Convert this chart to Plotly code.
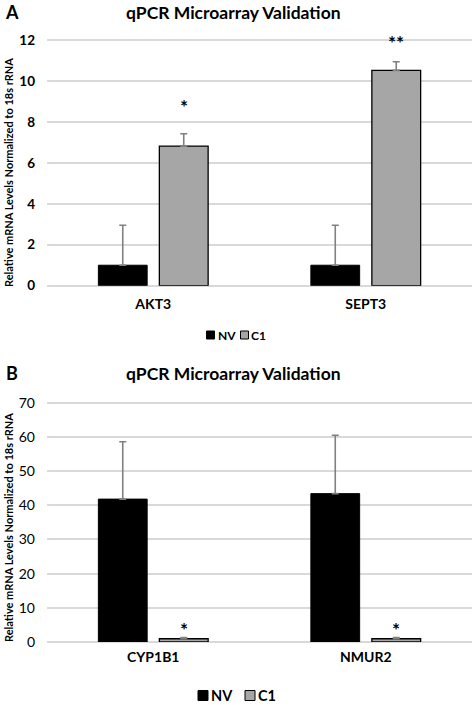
import plotly.graph_objects as go

# Panel A data
cats_a = ["AKT3", "SEPT3"]
nv_a = [1.0, 1.0]
nv_a_err = [1.95, 1.95]
c1_a = [6.82, 10.52]
c1_a_err = [0.6, 0.42]
sig_a = ["*", "**"]
sig_a_y = [8.75, 11.9]

# Panel B data
cats_b = ["CYP1B1", "NMUR2"]
nv_b = [41.8, 43.4]
nv_b_err = [16.8, 17.1]
c1_b = [0.95, 0.95]
c1_b_err = [0.35, 0.35]
sig_b = ["*", "*"]
sig_b_y = [3.6, 3.6]

yticks_a = [0, 2, 4, 6, 8, 10, 12]
yticks_b = [0, 10, 20, 30, 40, 50, 60, 70]
series_names = ["NV", "C1"]

FONT = "Lato"
NV_COL = "#000000"
C1_COL = "#a6a6a6"
ERR_COL = "#808080"
GRID = "#d9d9d9"

W, H = 472, 705
def py(px):
    return 1 - px / H
def px_(x):
    return x / W

fig = go.Figure()

def add_panel(cats, nv, nve, c1, c1e, xa, ya):
    fig.add_trace(go.Bar(
        x=cats, y=nv, name=series_names[0], marker=dict(color=NV_COL, line=dict(color="#000", width=1)),
        error_y=dict(type="data", array=nve, symmetric=False, arrayminus=[0]*len(nve),
                     color=ERR_COL, thickness=1.6, width=3.5),
        xaxis=xa, yaxis=ya, showlegend=False))
    fig.add_trace(go.Bar(
        x=cats, y=c1, name=series_names[1], marker=dict(color=C1_COL, line=dict(color="#000", width=1.3)),
        error_y=dict(type="data", array=c1e, symmetric=False, arrayminus=[0]*len(c1e),
                     color=ERR_COL, thickness=1.6, width=3.5),
        xaxis=xa, yaxis=ya, showlegend=False))

add_panel(cats_a, nv_a, nv_a_err, c1_a, c1_a_err, "x", "y")
add_panel(cats_b, nv_b, nv_b_err, c1_b, c1_b_err, "x2", "y2")

# significance markers on C1 bars
for xa, ya, cats, sig, sy in [("x", "y", cats_a, sig_a, sig_a_y), ("x2", "y2", cats_b, sig_b, sig_b_y)]:
    for c, s, v in zip(cats, sig, sy):
        fig.add_annotation(x=c, y=v, xref=xa, yref=ya, text=f"<b>{s}</b>", showarrow=False,
                           xshift=30.5, font=dict(family=FONT, size=19, color="#000"),
                           yanchor="middle")

xdom = [47 / W, 1]
common_x = dict(showgrid=False, showline=False, ticks="", automargin=False)
common_y = dict(showgrid=True, gridcolor=GRID, gridwidth=1.5, zeroline=True,
                zerolinecolor=GRID, zerolinewidth=1.5, showline=False, ticks="",
                ticklabelstandoff=11, automargin=False)
fig.update_layout(
    width=W, height=H,
    margin=dict(l=0, r=0, t=0, b=0, autoexpand=False),
    paper_bgcolor="white", plot_bgcolor="white",
    barmode="group", bargap=0.426, bargroupgap=0.2,
    font=dict(family=FONT, color="#000"),
    showlegend=False,
    xaxis=dict(domain=xdom, anchor="y", tickvals=cats_a, ticktext=[f"<b>{c}</b>" for c in cats_a],
               ticklabelstandoff=8,
               tickfont=dict(family=FONT, size=14, color="#000", weight="bold"), **common_x),
    yaxis=dict(domain=[py(285.7), py(38)], range=[0, 12.1], tickvals=yticks_a,
               ticktext=[f"<b>{t}</b>" for t in yticks_a], anchor="x",
               tickfont=dict(family=FONT, size=13.5, color="#000", weight="bold"), **common_y),
    xaxis2=dict(domain=xdom, anchor="y2", tickvals=cats_b, ticktext=[f"<b>{c}</b>" for c in cats_b],
                ticklabelstandoff=5,
                tickfont=dict(family=FONT, size=14, color="#000", weight="bold"), **common_x),
    yaxis2=dict(domain=[py(642), py(401)], range=[0, 70.5], tickvals=yticks_b,
                anchor="x2", tickfont=dict(family=FONT, size=14, color="#000"), **common_y),
)

# Panel titles and letters
for letter, ty in [("A", 12), ("B", 373)]:
    fig.add_annotation(x=px_(12), y=py(ty), xref="paper", yref="paper", text=f"<b>{letter}</b>",
                       showarrow=False, xanchor="center", yanchor="middle",
                       font=dict(family=FONT, size=18, color="#000"))
    fig.add_annotation(x=px_(233), y=py(ty), xref="paper", yref="paper",
                       text="<b>qPCR Microarray Validation</b>", showarrow=False,
                       xanchor="center", yanchor="middle",
                       font=dict(family=FONT, size=17.5, color="#000"))

# y-axis titles
for cy in [173, 528]:
    fig.add_annotation(x=px_(8), y=py(cy), xref="paper", yref="paper",
                       text="<b>Relative mRNA Levels Normalized to 18s rRNA</b>",
                       textangle=-90, showarrow=False, xanchor="center", yanchor="middle",
                       font=dict(family=FONT, size=11, color="#000"))

# Custom legends (compact, like the source)
legend_specs = [
    (335, 8, [(206.5, 216), (240.5, 249)], 12),
    (695.5, 10, [(198, 208.5), (245, 255.5)], 14.5),
]
colors = [NV_COL, C1_COL]
for cy, sz, items, fs in legend_specs:
    for (sx, tx), name, col in zip(items, series_names, colors):
        fig.add_shape(type="rect", xref="paper", yref="paper",
                      x0=px_(sx), x1=px_(sx + sz), y0=py(cy + sz / 2), y1=py(cy - sz / 2),
                      fillcolor=col, line=dict(color="#000", width=1))
        fig.add_annotation(x=px_(tx), y=py(cy), xref="paper", yref="paper", text=f"<b>{name}</b>",
                           showarrow=False, xanchor="left", yanchor="middle",
                           font=dict(family=FONT, size=fs, color="#000"))

fig.write_html(
    "out.html",
    config={"displayModeBar": False},
    post_script="document.body.style.margin='0';document.body.style.overflow='hidden';",
)
